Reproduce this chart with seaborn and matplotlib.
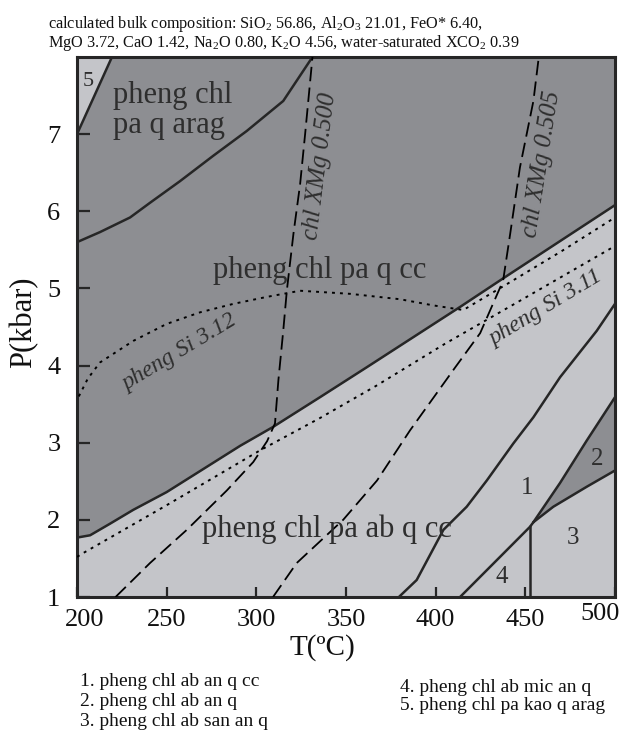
import matplotlib
matplotlib.use("Agg")
import numpy as np
import matplotlib.pyplot as plt
import matplotlib.transforms as mtransforms
import seaborn as sns

# ---------------- data (T in degC, P in kbar) ----------------
x_ticks = [200, 250, 300, 350, 400, 450, 500]
y_ticks = [1, 2, 3, 4, 5, 6, 7]

# field 5 boundary (upper left corner)
field5_T = [200, 219.5]
field5_P = [7.0, 8.0]

# arag / cc boundary
arag_T = [200, 212.8, 229.6, 240.7, 257.4, 276.0, 294.6, 315.0, 331.3]
arag_P = [5.60, 5.73, 5.92, 6.11, 6.39, 6.72, 7.04, 7.43, 8.00]

# main boundary: pheng chl pa q cc / pheng chl pa ab q cc
main_T = [200, 207.3, 218.4, 231.4, 250, 291, 309, 335.5, 361.7, 413.6, 437.6, 500]
main_P = [1.77, 1.80, 1.95, 2.13, 2.36, 2.96, 3.20, 3.59, 3.98, 4.76, 5.13, 6.08]

# ab field / field 1
line1_T = [379.5, 389.4, 404.3, 417.3, 428.5, 443.3, 454.5, 469.4, 489.8, 500]
line1_P = [1.00, 1.22, 1.87, 2.17, 2.51, 2.99, 3.33, 3.85, 4.45, 4.80]

# field 1 / field 4
line4_T = [413.6, 435.9, 452.6, 454.5]
line4_P = [1.00, 1.52, 1.91, 1.97]

# field 4 / field 3 (vertical)
vert_T = [452.6, 452.6]
vert_P = [1.00, 1.92]

# field 1 / field 2
line12_T = [454.5, 469.4, 484.3, 500]
line12_P = [1.97, 2.48, 3.03, 3.59]

# field 2 / field 3
line23_T = [454.5, 465.6, 484.3, 500]
line23_P = [1.97, 2.17, 2.43, 2.64]

# chl XMg isopleths (dashed)
chl500_T = [221.5, 240.7, 261.2, 283.5, 298.3, 306.0, 310.4, 312.3, 315.0, 317.0, 320.7, 324.4, 327.2, 331.3]
chl500_P = [1.00, 1.44, 1.87, 2.38, 2.75, 3.02, 3.25, 3.81, 4.45, 4.97, 5.71, 6.35, 7.00, 8.00]
chl505_T = [309.3, 322.5, 348.4, 367.3, 385.7, 411.0, 424.8, 437.6, 441.5, 447.0, 454.5, 457.5]
chl505_P = [1.00, 1.44, 2.00, 2.51, 3.16, 3.98, 4.42, 5.10, 5.70, 6.57, 7.43, 8.00]

# pheng Si isopleths (dotted)
si312_T = [201, 206, 212.8, 231.4, 250, 268.6, 287.2, 305.8, 324.4, 352.3, 380.1, 398.7, 415.4, 440, 470, 500]
si312_P = [3.60, 3.83, 4.04, 4.32, 4.54, 4.69, 4.80, 4.89, 4.97, 4.93, 4.86, 4.78, 4.72, 5.06, 5.48, 5.92]
si311_T = [200, 203.5, 250, 302, 335.5, 367, 405, 447, 500]
si311_P = [1.52, 1.57, 2.19, 2.90, 3.32, 3.74, 4.28, 4.84, 5.55]

legend_left = ["1. pheng chl ab an q cc", "2. pheng chl ab an q", "3. pheng chl ab san an q"]
legend_right = ["4. pheng chl ab mic an q", "5. pheng chl pa kao q arag"]

title_1 = "calculated bulk composition: SiO$_2$ 56.86, Al$_2$O$_3$ 21.01, FeO* 6.40,"
title_2 = "MgO 3.72, CaO 1.42, Na$_2$O 0.80, K$_2$O 4.56, water-saturated XCO$_2$ 0.39"

# ---------------- style ----------------
sns.set_theme(style="ticks")
plt.rcParams['font.family'] = ['Liberation Serif', 'DejaVu Serif']
plt.rcParams['mathtext.fontset'] = 'custom'
plt.rcParams['mathtext.rm'] = 'Liberation Serif'
plt.rcParams['mathtext.it'] = 'Liberation Serif:italic'
plt.rcParams['mathtext.default'] = 'regular'

DARK = '#8d8e92'
LIGHT = '#c4c5c9'
EDGE = '#262626'
TXT = '#2e2e2e'

fig = plt.figure(figsize=(6.25, 7.32), dpi=100)
ax = fig.add_axes([77 / 625, 1 - 597 / 732, 538 / 625, 540 / 732])
ax.set_facecolor(LIGHT)

# fields
ax.fill_between(main_T, main_P, 8, color=DARK, lw=0, zorder=0.5)
ax.fill_between(field5_T, field5_P, 8, color=LIGHT, lw=0, zorder=0.6)
ax.fill(np.r_[line12_T, line23_T[::-1]], np.r_[line12_P, line23_P[::-1]],
        color=DARK, lw=0, zorder=0.6)


def draw(T, P, **kw):
    sns.lineplot(x=T, y=P, sort=False, estimator=None, ax=ax, **kw)


for T, P in [(field5_T, field5_P), (arag_T, arag_P), (main_T, main_P),
             (line1_T, line1_P), (line4_T, line4_P), (vert_T, vert_P),
             (line12_T, line12_P), (line23_T, line23_P)]:
    draw(T, P, color=EDGE, lw=1.8, zorder=2)

for T, P in [(chl500_T, chl500_P), (chl505_T, chl505_P)]:
    draw(T, P, color='black', lw=1.3, linestyle=(0, (8, 3.5)), zorder=3)

for T, P in [(si312_T, si312_P), (si311_T, si311_P)]:
    draw(T, P, color='black', lw=1.4, linestyle=(0, (1.5, 2.6)), zorder=3)

ax.set_xlim(200, 500)
ax.set_ylim(1, 8)
ax.set_xticks(x_ticks)
ax.set_yticks(y_ticks)
ax.tick_params(direction='in', width=1.6, color=EDGE, labelsize=19, labelcolor='#111111')
ax.tick_params(axis='x', length=7, pad=9)
ax.tick_params(axis='y', length=9, pad=12)
for sp in ax.spines.values():
    sp.set_linewidth(2.2)
    sp.set_color(EDGE)
    sp.set_visible(True)

# the end labels sit a little off their ticks in the original
xlabels = ax.get_xticklabels()
xlabels[0].set_transform(xlabels[0].get_transform()
                         + mtransforms.ScaledTranslation(0.08, 0, fig.dpi_scale_trans))
xlabels[-1].set_transform(xlabels[-1].get_transform()
                          + mtransforms.ScaledTranslation(-0.15, 0.06, fig.dpi_scale_trans))

ax.set_xlabel('T(ºC)', fontsize=21, color='#111111')
ax.set_ylabel('P(kbar)', fontsize=22, color='#111111')
ax.xaxis.set_label_coords((322 - 77) / 538, (597 - 634) / 540)
ax.yaxis.set_label_coords((38 - 77) / 538, (597 - 322) / 540)

# field labels
ax.text(220.1, 7.40, 'pheng chl', fontsize=22, color=TXT, va='baseline', zorder=5)
ax.text(220.1, 7.02, 'pa q arag', fontsize=22, color=TXT, va='baseline', zorder=5)
ax.text(335.5, 5.14, 'pheng chl pa q cc', fontsize=22, color=TXT, ha='center', va='baseline', zorder=5)
ax.text(339.6, 1.78, 'pheng chl pa ab q cc', fontsize=22, color=TXT, ha='center', va='baseline', zorder=5)
ax.text(206.4, 7.62, '5', fontsize=16, color=TXT, ha='center', va='baseline', zorder=5)
ax.text(450.8, 2.34, '1', fontsize=18, color=TXT, ha='center', va='baseline', zorder=5)
ax.text(489.8, 2.71, '2', fontsize=18, color=TXT, ha='center', va='baseline', zorder=5)
ax.text(476.8, 1.69, '3', fontsize=18, color=TXT, ha='center', va='baseline', zorder=5)
ax.text(436.9, 1.18, '4', fontsize=18, color=TXT, ha='center', va='baseline', zorder=5)

iso_kw = dict(fontsize=18, color=TXT, style='italic', ha='center', va='center',
              rotation_mode='anchor', zorder=5)
ax.text(335.5, 6.58, 'chl XMg 0.500', rotation=83, **iso_kw)
ax.text(459.3, 6.61, 'chl XMg 0.505', rotation=81, **iso_kw)
iso_kw['fontsize'] = 17
ax.text(257.4, 4.17, 'pheng Si 3.12', rotation=31, **iso_kw)
ax.text(461.6, 4.74, 'pheng Si 3.11', rotation=31, **iso_kw)

# title
fig.text(48 / 625, 1 - 28 / 732, title_1, fontsize=11.7, color='#111111', va='baseline')
fig.text(48 / 625, 1 - 47 / 732, title_2, fontsize=11.7, color='#111111', va='baseline')

# legend of small fields
for i, s in enumerate(legend_left):
    fig.text(80 / 625, 1 - (681 + 20 * i) / 732, s, fontsize=14, color='#111111', va='center')
for i, s in enumerate(legend_right):
    fig.text(400 / 625, 1 - (687 + 19 * i) / 732, s, fontsize=14, color='#111111', va='center')

fig.savefig('out.png', dpi=100)
